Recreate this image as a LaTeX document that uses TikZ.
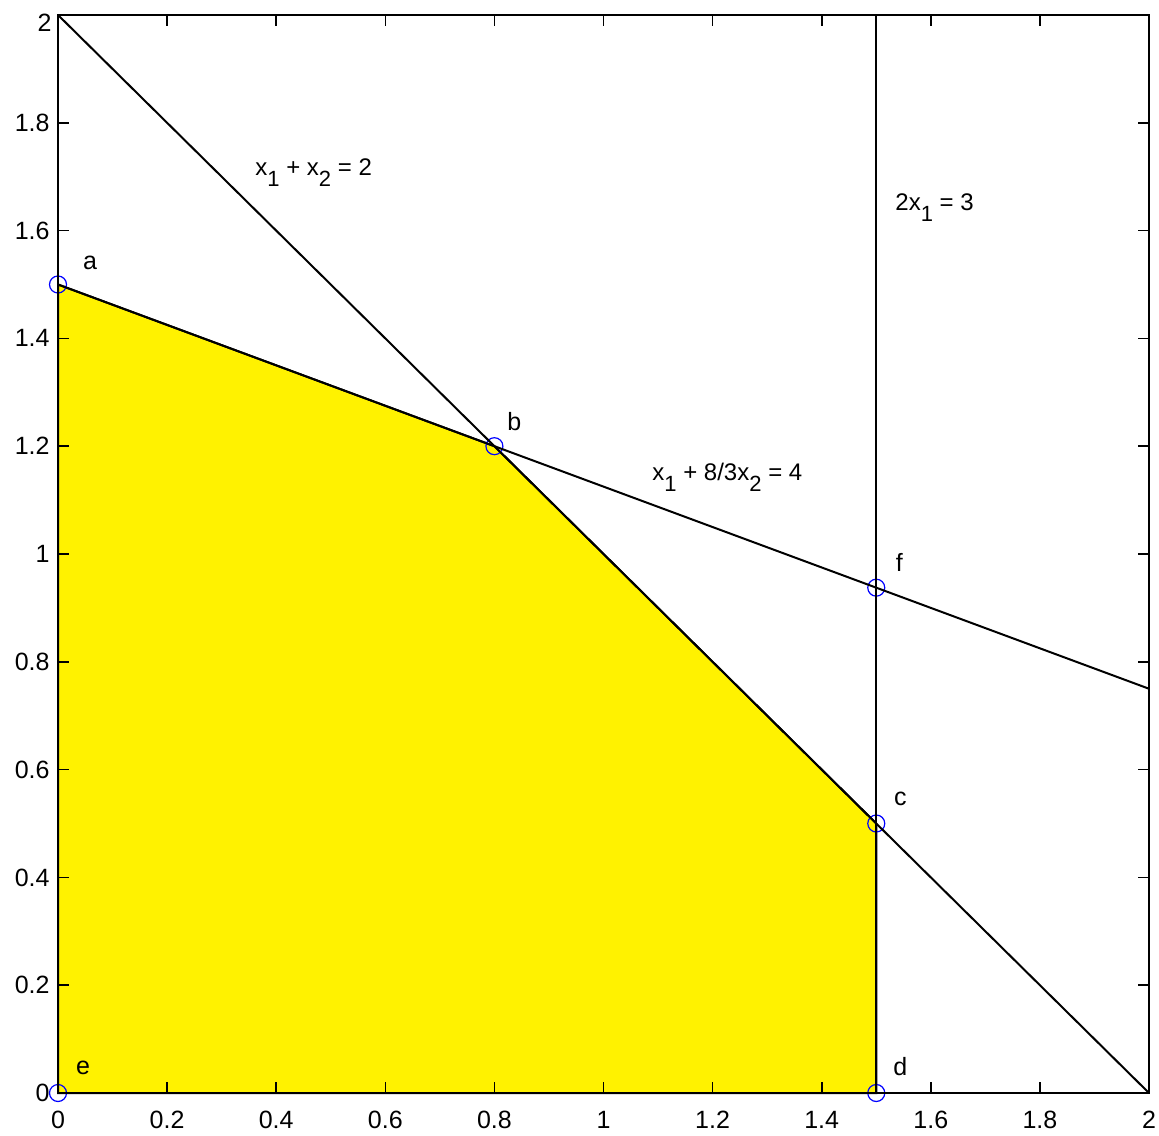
\documentclass[tikz,border=0pt]{standalone}
\usepackage{fontspec}
\setmainfont{Liberation Sans}
\usetikzlibrary{calc}
\newcommand\sbs[1]{\raisebox{-5.5pt}{\fontsize{11}{11}\selectfont #1}}
\begin{document}
\begin{tikzpicture}[x=0.5pt,y=0.5pt,
  axisline/.style={line width=1.2pt,black},
  dataline/.style={line width=1pt,black},
  tickmark/.style={line width=0.8pt,black},
  ticklbl/.style={font=\fontsize{12.5}{12.5}\selectfont,inner sep=0pt},
  ptmark/.style={circle,draw=blue,line width=0.6pt,minimum size=8.5pt,inner sep=0pt},
  ptlbl/.style={font=\fontsize{12.5}{12.5}\selectfont,inner sep=0pt},
  eqlbl/.style={font=\fontsize{12}{12}\selectfont,inner sep=0pt,anchor=west}]
\useasboundingbox (0,0) rectangle (1159,1135);
\begin{scope}[xshift=29pt,yshift=21pt,x=272.75pt,y=269.5pt]
  % corners
  \coordinate (o) at (0,0);
  \coordinate (tl) at (0,2);
  \coordinate (br) at (2,0);
  \coordinate (tr) at (2,2);
  \coordinate (le) at (2,0.75);
  \coordinate (vt) at (1.5,2);
  % feasible region
  \fill[yellow] (0,0) -- (0,1.5) -- (0.8,1.2) -- (1.5,0.5) -- (1.5,0) -- cycle;
  \draw[dataline] (0,0) -- (0,1.5) -- (0.8,1.2) -- (1.5,0.5) -- (1.5,0) -- cycle;
  % points
  \node[ptmark] (a) at (0,1.5) {};
  \node[ptmark] (b) at (0.8,1.2) {};
  \node[ptmark] (c) at (1.5,0.5) {};
  \node[ptmark] (d) at (1.5,0) {};
  \node[ptmark] (e) at (0,0) {};
  \node[ptmark] (f) at (1.5,0.9375) {};
  % constraint lines
  \draw[dataline] (tl.center) -- (br.center);
  \draw[dataline] (a.center) -- (le);
  \draw[dataline] (d.center) -- (vt);
  % axes box
  \draw[axisline] (o) rectangle (tr);
  % ticks
  \foreach \v in {0,0.2,0.4,0.6,0.8,1,1.2,1.4,1.6,1.8,2} {
    \draw[tickmark] (\v,0) -- ++(0,5.5pt);
    \draw[tickmark] (\v,2) -- ++(0,-5.5pt);
    \draw[tickmark] (0,\v) -- ++(5.5pt,0);
    \draw[tickmark] (2,\v) -- ++(-5.5pt,0);
  }
  \foreach \v/\t in {0/0,0.2/0.2,0.4/0.4,0.6/0.6,0.8/0.8,1/1,1.2/1.2,1.4/1.4,1.6/1.6,1.8/1.8,2/2} {
    \node[ticklbl] (xl\t) at ([yshift=-13.5pt]\v,0) {\t};
  }
  \foreach \v/\t in {0/0,0.2/0.2,0.4/0.4,0.6/0.6,0.8/0.8,1/1,1.2/1.2,1.4/1.4,1.6/1.6,1.8/1.8} {
    \node[ticklbl,anchor=east] (yl\t) at ([xshift=-4pt]0,\v) {\t};
  }
  \node[ticklbl,anchor=east] (yl2) at ([xshift=-3pt,yshift=-4pt]0,2) {2};
  % point labels
  \node[ptlbl] (la) at ([xshift=16pt,yshift=11pt]a.center) {a};
  \node[ptlbl] (lb) at ([xshift=10pt,yshift=12.5pt]b.center) {b};
  \node[ptlbl] (lc) at ([xshift=12pt,yshift=12.5pt]c.center) {c};
  \node[ptlbl] (ld) at ([xshift=12pt,yshift=13pt]d.center) {d};
  \node[ptlbl] (le2) at ([xshift=12.5pt,yshift=12.5pt]e.center) {e};
  \node[ptlbl] (lf) at ([xshift=11.5pt,yshift=12.5pt]f.center) {f};
\end{scope}
% equation labels (pixel coordinates, y flipped)
\node[eqlbl] (eq1) at (255,{1135-173}) {x\sbs{1} + x\sbs{2} = 2};
\node[eqlbl] (eq2) at (652,{1135-477}) {x\sbs{1} + 8/3x\sbs{2} = 4};
\node[eqlbl] (eq3) at (895,{1135-208}) {2x\sbs{1} = 3};
\end{tikzpicture}
\end{document}
